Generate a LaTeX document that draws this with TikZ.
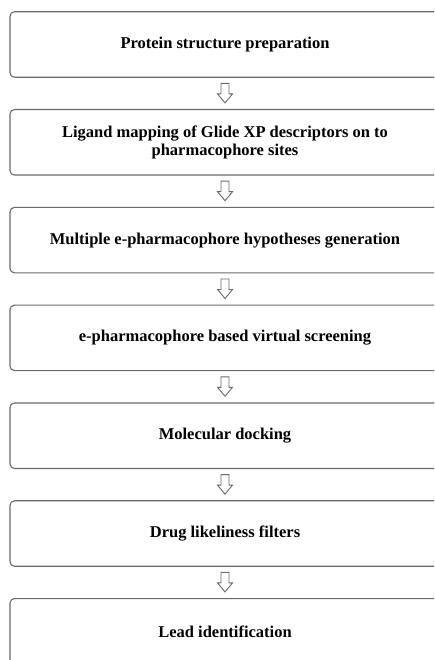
\documentclass[tikz,border=0pt]{standalone}
\usepackage{fontspec}
\setmainfont{Liberation Serif}
\usetikzlibrary{calc}
\definecolor{boxline}{HTML}{6A6A6A}
\tikzset{
  stepbox/.style={draw=boxline, line width=1.1pt, rounded corners=4.5pt, fill=white,
    minimum width=430pt, minimum height=65.5pt, inner sep=0pt, align=center,
    font=\fontsize{16.5}{17.5}\selectfont\bfseries},
  hollow/.style={draw=boxline, line width=0.9pt, fill=white, line join=miter}
}
\newcommand\flowarrow[2]{%
  \coordinate (m) at ($(#1.south)!0.5!(#2.north)$);
  \draw[hollow] ($(m)+(-4pt,10pt)$) -- ($(m)+(4pt,10pt)$) -- ($(m)+(4pt,-0.5pt)$)
     -- ($(m)+(7.5pt,-0.5pt)$) -- ($(m)+(0pt,-9.5pt)$) -- ($(m)+(-7.5pt,-0.5pt)$)
     -- ($(m)+(-4pt,-0.5pt)$) -- cycle;}
\begin{document}
\begin{tikzpicture}
\useasboundingbox (0,0) rectangle (434pt,-660pt);
\clip (0,0) rectangle (434pt,-660pt);
\fill[white] (0,0) rectangle (434pt,-660pt);
\node[stepbox] (b1) at (225pt,-44.5pt) {Protein structure preparation};
\node[stepbox] (b2) at (225pt,-142.3pt) {Ligand mapping of Glide XP descriptors on to\\pharmacophore sites};
\node[stepbox] (b3) at (225pt,-240.1pt) {Multiple e-pharmacophore hypotheses generation};
\node[stepbox] (b4) at (225pt,-337.9pt) {e-pharmacophore based virtual screening};
\node[stepbox] (b5) at (225pt,-435.7pt) {Molecular docking};
\node[stepbox] (b6) at (225pt,-533.5pt) {Drug likeliness filters};
\node[stepbox] (b7) at (225pt,-631.3pt) {Lead identification};
\flowarrow{b1}{b2}
\flowarrow{b2}{b3}
\flowarrow{b3}{b4}
\flowarrow{b4}{b5}
\flowarrow{b5}{b6}
\flowarrow{b6}{b7}
\end{tikzpicture}
\end{document}
